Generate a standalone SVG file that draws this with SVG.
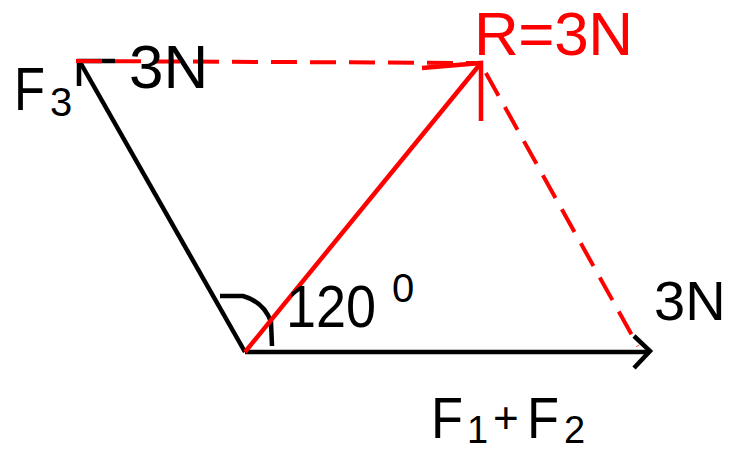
<svg xmlns="http://www.w3.org/2000/svg" width="742" height="452" viewBox="0 0 742 452">
<style>
.t{font-family:"Liberation Sans","DejaVu Sans",sans-serif;}
.k{fill:#000;}
.r{fill:#ff0000;}
.bl{stroke:#000;stroke-width:4.5;fill:none;stroke-linecap:butt;}
.rl{stroke:#ff0000;stroke-width:4.5;fill:none;}
.rd{stroke:#ff0000;stroke-width:4;fill:none;stroke-dasharray:26 13;}
</style>
<rect width="742" height="452" fill="#fff"/>
<g id="connectors">
  <line class="bl" x1="245" y1="352" x2="650" y2="352"/>
  <polyline class="bl" points="634,336 650,351 634,368"/>
  <line class="bl" x1="245" y1="352" x2="80" y2="62"/>
  <polyline class="bl" points="79,86 79,61 115,61"/>
  <path class="bl" d="M220,296 L243,296 Q264,302 271,322 L272,346"/>
  <line class="rd" x1="76" y1="61" x2="476" y2="63"/>
  <line class="rd" x1="482" y1="66" x2="638" y2="346" stroke-dashoffset="-8"/>
  <line class="rl" x1="245" y1="352" x2="481" y2="63"/>
  <polyline class="rl" points="422,68 481,63 481,121"/>
</g>
<g id="label-F3" class="t k">
  <text x="14" y="110" font-size="62"><tspan textLength="31" lengthAdjust="spacingAndGlyphs">F</tspan><tspan x="50" y="116" font-size="40">3</tspan></text>
</g>
<g id="label-3N-top" class="t k"><text x="129" y="88" font-size="62">3N</text></g>
<g id="label-R" class="t r"><text x="474" y="55" font-size="62" textLength="159">R=3N</text></g>
<g id="label-angle" class="t k">
  <text x="286" y="327" font-size="60"><tspan textLength="90" lengthAdjust="spacingAndGlyphs">120</tspan><tspan x="392" y="302" font-size="40">0</tspan></text>
</g>
<g id="label-3N-right" class="t k"><text x="654" y="320" font-size="56">3N</text></g>
<g id="label-F1F2" class="t k">
  <text x="431" y="438" font-size="58"><tspan textLength="32" lengthAdjust="spacingAndGlyphs">F</tspan><tspan x="467" y="443" font-size="38">1</tspan><tspan x="493" y="433" font-size="44">+</tspan><tspan x="527" y="438" textLength="32" lengthAdjust="spacingAndGlyphs">F</tspan><tspan x="564" y="443" font-size="38">2</tspan></text>
</g>
</svg>
